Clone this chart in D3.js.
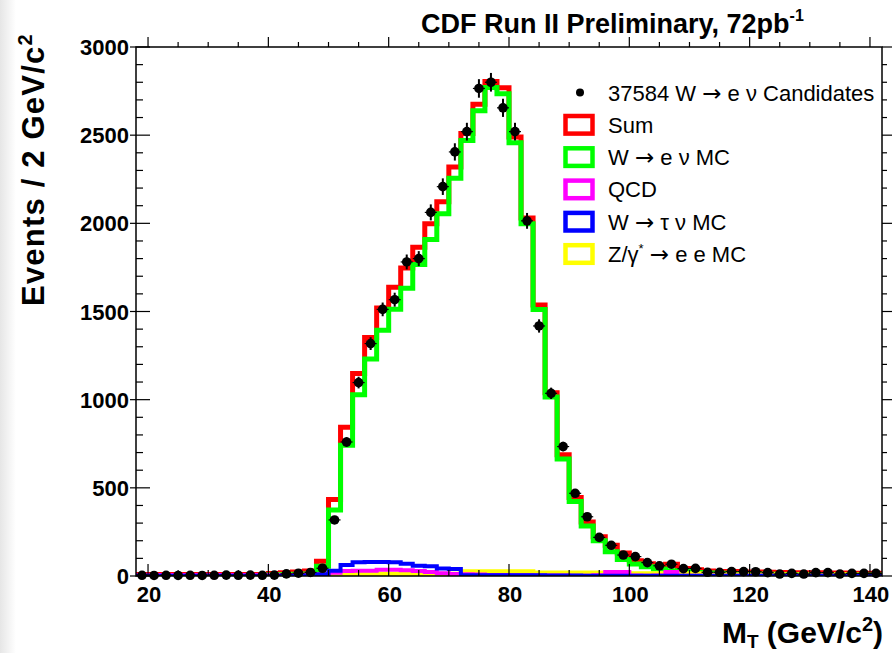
<!DOCTYPE html>
<html>
<head>
<meta charset="utf-8">
<script src="https://cdn.jsdelivr.net/npm/d3@7"></script>
<style>
body { margin: 0; background: #fff; }
svg { display: block; font-family: "Liberation Sans", Arial, Helvetica, sans-serif; }
.arr { font-family: "DejaVu Sans", sans-serif; }
</style>
</head>
<body>
<svg id="chart" width="892" height="653"></svg>
<script>
// bins of 2 GeV/c^2, centres
var binCenters = [19, 21, 23, 25, 27, 29, 31, 33, 35, 37, 39, 41, 43, 45, 47, 49,
    51, 53, 55, 57, 59, 61, 63, 65, 67, 69, 71, 73, 75, 77, 79, 81, 83, 85, 87, 89,
    91, 93, 95, 97, 99, 101, 103, 105, 107, 109, 111, 113, 115, 117, 119, 121, 123,
    125, 127, 129, 131, 133, 135, 137, 139, 141];

// W -> e nu candidates (data)
var dataCounts = [4, 3, 4, 3, 4, 3, 4, 5, 4, 5, 4, 5, 12, 16, 20, 44,
    318, 760, 1097, 1318, 1512, 1567, 1781, 1800, 2062, 2208, 2405, 2520, 2765, 2800, 2655, 2520,
    2014, 1418, 1036, 734, 469, 336, 219, 174, 119, 110, 76, 58, 67, 42, 43, 21,
    21, 25, 25, 24, 19, 11, 15, 11, 19, 19, 11, 15, 15, 15];

// W -> e nu MC
var wenuMC = [0, 0, 0, 0, 0, 0, 0, 0, 0, 0, 0, 5, 8, 10, 12, 55,
    374, 741, 1028, 1230, 1393, 1513, 1632, 1767, 1908, 2054, 2256, 2470, 2639, 2770, 2735, 2457,
    1997, 1512, 1015, 664, 422, 284, 200, 138, 94, 68, 53, 40, 30, 25, 20, 17,
    15, 14, 12, 11, 10, 9, 8, 8, 7, 6, 6, 5, 5, 4];

// QCD
var qcdBkg = [5, 5, 5, 5, 5, 5, 5, 5, 5, 5, 5, 5, 5, 5, 5, 8,
    18, 28, 30, 30, 35, 35, 33, 28, 22, 15, 12, 10, 8, 6, 5, 4,
    4, 3, 3, 3, 2, 2, 4, 22, 22, 3, 2, 3, 22, 2, 1, 1,
    1, 1, 1, 1, 1, 1, 1, 1, 1, 1, 1, 1, 1, 1];

// W -> tau nu MC
var wtaunuMC = [1, 1, 1, 1, 1, 1, 1, 1, 1, 1, 1, 1, 1, 1, 3, 10,
    30, 62, 78, 80, 80, 78, 70, 58, 56, 42, 40, 4, 4, 4, 4, 4,
    4, 4, 3, 3, 3, 2, 1, 1, 1, 1, 1, 1, 1, 1, 1, 1,
    1, 1, 1, 1, 1, 1, 1, 1, 1, 1, 1, 1, 1, 1];

// Z/gamma* -> e e MC
var zeeMC = [3, 3, 3, 3, 3, 3, 3, 3, 3, 3, 3, 3, 5, 6, 8, 10,
    12, 12, 12, 12, 12, 12, 12, 12, 12, 12, 12, 25, 25, 25, 25, 25,
    25, 18, 18, 18, 18, 18, 18, 14, 14, 14, 14, 14, 14, 14, 14, 9,
    9, 9, 9, 9, 9, 9, 9, 9, 9, 9, 9, 9, 9, 9];

var xTickLabels = [20, 40, 60, 80, 100, 120, 140];
var yTickLabels = [0, 500, 1000, 1500, 2000, 2500, 3000];

var sumMC = binCenters.map(function(d, i) {
    return wenuMC[i] + qcdBkg[i] + wtaunuMC[i] + zeeMC[i];
});

var svg = d3.select("#chart"),
    width = +svg.attr("width"),
    height = +svg.attr("height");

var x = d3.scaleLinear().domain([18, 142]).range([136, 882]);
var y = d3.scaleLinear().domain([0, 3000]).range([576, 47]);

// faint grey strip at the left edge of the original picture
var defs = svg.append("defs");
var grad = defs.append("linearGradient").attr("id", "edge");
grad.append("stop").attr("offset", "0%").attr("stop-color", "#e6e6e6");
grad.append("stop").attr("offset", "100%").attr("stop-color", "#ffffff");
svg.append("rect").attr("x", 0).attr("y", 0).attr("width", 16).attr("height", height)
    .attr("fill", "url(#edge)");

defs.append("clipPath").attr("id", "frame")
    .append("rect").attr("x", 136).attr("y", 47).attr("width", 746).attr("height", 529);

// step outline for a histogram
var step = d3.line()
    .x(function(d) { return x(d[0]); })
    .y(function(d) { return y(d[1]); })
    .curve(d3.curveStepAfter);

function histPoints(values) {
    var pts = binCenters.map(function(c, i) { return [c - 1, values[i]]; });
    pts.push([binCenters[binCenters.length - 1] + 1, values[values.length - 1]]);
    return pts;
}

var series = [
    { name: "Sum", values: sumMC, color: "#ff0000", w: 5 },
    { name: "W", tail: "e \u03bd MC", values: wenuMC, color: "#00ff00", w: 5 },
    { name: "QCD", values: qcdBkg, color: "#ff00ff", w: 4 },
    { name: "W", tail: "\u03c4 \u03bd MC", values: wtaunuMC, color: "#0000ff", w: 4 },
    { name: "Z/\u03b3", star: true, tail: "e e MC", values: zeeMC, color: "#ffff00", w: 4.5 }
];

var plot = svg.append("g").attr("clip-path", "url(#frame)");

// yellow drawn before magenta so both stay visible near zero
var drawOrder = [0, 1, 4, 2, 3];
plot.selectAll(".hist")
    .data(drawOrder.map(function(i) { return series[i]; }))
    .enter().append("path")
    .attr("class", "hist")
    .attr("d", function(s) { return step(histPoints(s.values)); })
    .attr("fill", "none")
    .attr("stroke", function(s) { return s.color; })
    .attr("stroke-width", function(s) { return s.w; });

// frame
svg.append("rect")
    .attr("x", 136).attr("y", 47).attr("width", 746).attr("height", 529)
    .attr("fill", "none").attr("stroke", "#000").attr("stroke-width", 1.5);

// ticks
var xMinor = d3.range(20, 142, 5);
var yMinor = d3.range(0, 3001, 100);
var ticks = svg.append("g").attr("stroke", "#000").attr("stroke-width", 1.2);

ticks.selectAll(".xb").data(xMinor).enter().append("line")
    .attr("x1", function(d) { return x(d); }).attr("x2", function(d) { return x(d); })
    .attr("y1", 576).attr("y2", function(d) { return d % 20 === 0 ? 564 : 570; });
ticks.selectAll(".xt").data(xMinor).enter().append("line")
    .attr("x1", function(d) { return x(d); }).attr("x2", function(d) { return x(d); })
    .attr("y1", 47).attr("y2", function(d) { return d % 20 === 0 ? 37 : 42; });
ticks.selectAll(".yl").data(yMinor).enter().append("line")
    .attr("y1", function(d) { return y(d); }).attr("y2", function(d) { return y(d); })
    .attr("x1", function(d) { return d % 500 === 0 ? 130 : 136; })
    .attr("x2", function(d) { return d % 500 === 0 ? 150 : 143; });
ticks.selectAll(".yr").data(yMinor).enter().append("line")
    .attr("y1", function(d) { return y(d); }).attr("y2", function(d) { return y(d); })
    .attr("x1", 882)
    .attr("x2", function(d) { return d % 500 === 0 ? 892 : 887; });

// tick labels
svg.selectAll(".xlab").data(xTickLabels).enter().append("text")
    .attr("x", function(d) { return x(d) + 1; }).attr("y", 602)
    .attr("text-anchor", "middle")
    .style("font-size", "22px").style("font-weight", "bold")
    .text(function(d) { return d; });

svg.selectAll(".ylab").data(yTickLabels).enter().append("text")
    .attr("x", 129).attr("y", function(d) { return y(d) + 8; })
    .attr("text-anchor", "end")
    .style("font-size", "22px").style("font-weight", "bold")
    .text(function(d) { return d; });

// data points with errors
var pts = svg.append("g");
var pt = pts.selectAll(".pt")
    .data(binCenters.map(function(c, i) { return { c: c, n: dataCounts[i] }; }))
    .enter().append("g").attr("class", "pt");
pt.append("line")
    .attr("x1", function(d) { return x(d.c); }).attr("x2", function(d) { return x(d.c); })
    .attr("y1", function(d) { return y(d.n + Math.sqrt(d.n)); })
    .attr("y2", function(d) { return y(Math.max(0, d.n - Math.sqrt(d.n))); })
    .attr("stroke", "#000").attr("stroke-width", 2);
pt.append("line")
    .attr("x1", function(d) { return x(d.c - 1); }).attr("x2", function(d) { return x(d.c + 1); })
    .attr("y1", function(d) { return y(d.n); }).attr("y2", function(d) { return y(d.n); })
    .attr("stroke", "#000").attr("stroke-width", 1.2);
pt.append("circle")
    .attr("cx", function(d) { return x(d.c); }).attr("cy", function(d) { return y(d.n); })
    .attr("r", 4.8).attr("fill", "#000");

// title
var title = svg.append("text").attr("x", 421).attr("y", 33)
    .style("font-size", "27px").style("font-weight", "bold");
title.append("tspan").text("CDF Run II Preliminary, 72pb");
title.append("tspan").attr("dy", -12).style("font-size", "16px").text("-1");

// axis titles
var yt = svg.append("text")
    .attr("transform", "translate(44,306) rotate(-90)")
    .style("font-size", "31px").style("font-weight", "bold")
    .style("letter-spacing", "1.2px");
yt.append("tspan").text("Events / 2 GeV/c");
yt.append("tspan").attr("dy", -12).style("font-size", "20px").text("2");

var xt = svg.append("text").attr("x", 883).attr("y", 643)
    .attr("text-anchor", "end")
    .style("font-size", "30px").style("font-weight", "bold");
xt.append("tspan").text("M");
xt.append("tspan").attr("dy", 5).style("font-size", "19px").text("T");
xt.append("tspan").attr("dy", -5).text(" (GeV/c");
xt.append("tspan").attr("dy", -12).style("font-size", "20px").text("2");
xt.append("tspan").attr("dy", 12).text(")");

// legend
var legY = [92.5, 124.8, 157.1, 189.4, 221.7, 254];
var legend = svg.append("g").style("font-size", "22px");
legend.append("circle").attr("cx", 580).attr("cy", legY[0]).attr("r", 4).attr("fill", "#000");
var dt = legend.append("text").attr("x", 608).attr("y", legY[0] + 8);
dt.append("tspan").text("37584 W ");
dt.append("tspan").attr("class", "arr").style("font-size", "23px").text("\u2192");
dt.append("tspan").text(" e \u03bd Candidates");

var rows = legend.selectAll(".row").data(series).enter().append("g").attr("class", "row");
rows.append("rect")
    .attr("x", 565.5).attr("y", function(d, i) { return legY[i + 1] - 8.8; })
    .attr("width", 27).attr("height", 17.6)
    .attr("fill", "none")
    .attr("stroke", function(d) { return d.color; })
    .attr("stroke-width", 4.5);
var lt = rows.append("text")
    .attr("x", 608).attr("y", function(d, i) { return legY[i + 1] + 8; });
lt.append("tspan").text(function(d) { return d.name; });
lt.each(function(d) {
    var t = d3.select(this);
    if (d.star) {
        t.append("tspan").attr("dy", -9).style("font-size", "13px").text("*");
        t.append("tspan").attr("dy", 9).text(" ");
    } else if (d.tail) {
        t.append("tspan").text(" ");
    }
    if (d.tail) {
        t.append("tspan").attr("class", "arr").style("font-size", "23px").text("\u2192");
        t.append("tspan").text(" " + d.tail);
    }
});
</script>
</body>
</html>
